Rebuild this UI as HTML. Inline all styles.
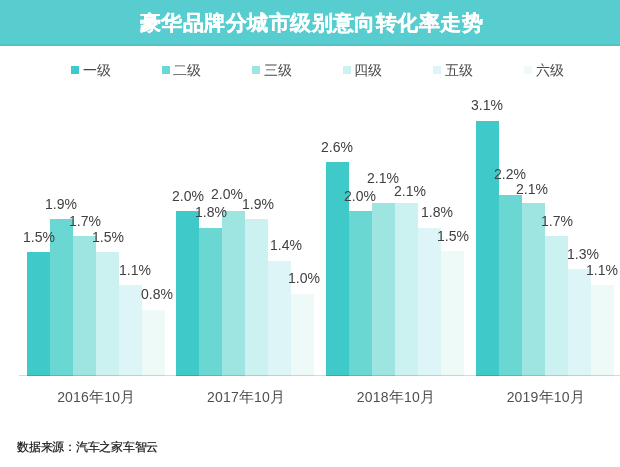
<!DOCTYPE html>
<html><head><meta charset="utf-8"><style>
html,body{margin:0;padding:0;}
body{width:620px;height:467px;position:relative;overflow:hidden;background:#fff;font-family:"Liberation Sans",sans-serif;-webkit-font-smoothing:antialiased;}
.tbar{position:absolute;left:0;top:0;width:620px;height:46px;background:#57CDCF;box-shadow:inset 0 -2px 0 rgba(0,0,0,0.05);}
.title{position:absolute;left:140px;top:0;height:46px;color:#fff;font-size:21px;font-weight:bold;line-height:46px;letter-spacing:0.45px;white-space:nowrap;-webkit-text-stroke:0.3px #fff;}
.bar{position:absolute;}
.wrap{position:absolute;left:0;top:0;width:620px;height:467px;will-change:transform;}
.axis{position:absolute;left:19px;top:375px;width:601px;height:1px;background:rgba(0,0,0,0.15);}
.lbl{position:absolute;font-size:14px;color:#404040;line-height:16px;white-space:nowrap;}
.cat{position:absolute;top:389px;width:100px;text-align:center;font-size:14px;color:#505050;line-height:16px;letter-spacing:0.2px;}
.cj{font-size:15px;}
.lsq{position:absolute;top:66px;width:8px;height:8px;}
.ltx{position:absolute;top:62px;font-size:14px;color:#4A4A4A;line-height:16px;}
.src{position:absolute;left:17px;top:439px;font-size:12px;color:#151515;line-height:16px;letter-spacing:-0.25px;white-space:nowrap;-webkit-text-stroke:0.2px #151515;}
</style></head><body><div class="wrap">
<div class="tbar"></div><div class="title">豪华品牌分城市级别意向转化率走势</div>
<div class="bar" style="left:26.50px;top:252.40px;width:23.00px;height:123.60px;background:#3FCAC9"></div><div class="bar" style="left:49.50px;top:219.44px;width:23.00px;height:156.56px;background:#6AD7D3"></div><div class="bar" style="left:72.50px;top:235.92px;width:23.00px;height:140.08px;background:#9EE5E1"></div><div class="bar" style="left:95.50px;top:252.40px;width:23.00px;height:123.60px;background:#CBF1F0"></div><div class="bar" style="left:118.50px;top:285.36px;width:23.00px;height:90.64px;background:#DDF5F7"></div><div class="bar" style="left:141.50px;top:310.08px;width:23.00px;height:65.92px;background:#EEFAF8"></div><div class="bar" style="left:176.33px;top:211.20px;width:23.00px;height:164.80px;background:#3FCAC9"></div><div class="bar" style="left:199.33px;top:227.68px;width:23.00px;height:148.32px;background:#6AD7D3"></div><div class="bar" style="left:222.33px;top:211.20px;width:23.00px;height:164.80px;background:#9EE5E1"></div><div class="bar" style="left:245.33px;top:219.44px;width:23.00px;height:156.56px;background:#CBF1F0"></div><div class="bar" style="left:268.33px;top:260.64px;width:23.00px;height:115.36px;background:#DDF5F7"></div><div class="bar" style="left:291.33px;top:293.60px;width:23.00px;height:82.40px;background:#EEFAF8"></div><div class="bar" style="left:326.17px;top:161.76px;width:23.00px;height:214.24px;background:#3FCAC9"></div><div class="bar" style="left:349.17px;top:211.20px;width:23.00px;height:164.80px;background:#6AD7D3"></div><div class="bar" style="left:372.17px;top:202.96px;width:23.00px;height:173.04px;background:#9EE5E1"></div><div class="bar" style="left:395.17px;top:202.96px;width:23.00px;height:173.04px;background:#CBF1F0"></div><div class="bar" style="left:418.17px;top:227.68px;width:23.00px;height:148.32px;background:#DDF5F7"></div><div class="bar" style="left:441.17px;top:250.75px;width:23.00px;height:125.25px;background:#EEFAF8"></div><div class="bar" style="left:476.00px;top:120.56px;width:23.00px;height:255.44px;background:#3FCAC9"></div><div class="bar" style="left:499.00px;top:194.72px;width:23.00px;height:181.28px;background:#6AD7D3"></div><div class="bar" style="left:522.00px;top:202.96px;width:23.00px;height:173.04px;background:#9EE5E1"></div><div class="bar" style="left:545.00px;top:235.92px;width:23.00px;height:140.08px;background:#CBF1F0"></div><div class="bar" style="left:568.00px;top:268.88px;width:23.00px;height:107.12px;background:#DDF5F7"></div><div class="bar" style="left:591.00px;top:285.36px;width:23.00px;height:90.64px;background:#EEFAF8"></div><div class="lbl" style="left:23px;top:229px">1.5%</div><div class="lbl" style="left:45px;top:196px">1.9%</div><div class="lbl" style="left:69px;top:213px">1.7%</div><div class="lbl" style="left:92px;top:229px">1.5%</div><div class="lbl" style="left:119px;top:262px">1.1%</div><div class="lbl" style="left:141px;top:286px">0.8%</div><div class="lbl" style="left:172px;top:188px">2.0%</div><div class="lbl" style="left:195px;top:204px">1.8%</div><div class="lbl" style="left:211px;top:186px">2.0%</div><div class="lbl" style="left:242px;top:196px">1.9%</div><div class="lbl" style="left:270px;top:237px">1.4%</div><div class="lbl" style="left:288px;top:270px">1.0%</div><div class="lbl" style="left:321px;top:139px">2.6%</div><div class="lbl" style="left:344px;top:188px">2.0%</div><div class="lbl" style="left:367px;top:170px">2.1%</div><div class="lbl" style="left:394px;top:183px">2.1%</div><div class="lbl" style="left:421px;top:204px">1.8%</div><div class="lbl" style="left:437px;top:228px">1.5%</div><div class="lbl" style="left:471px;top:97px">3.1%</div><div class="lbl" style="left:494px;top:166px">2.2%</div><div class="lbl" style="left:516px;top:181px">2.1%</div><div class="lbl" style="left:541px;top:213px">1.7%</div><div class="lbl" style="left:567px;top:246px">1.3%</div><div class="lbl" style="left:586px;top:262px">1.1%</div><div class="cat" style="left:46.30px">2016<span class="cj">年</span>10<span class="cj">月</span></div><div class="cat" style="left:196.13px">2017<span class="cj">年</span>10<span class="cj">月</span></div><div class="cat" style="left:345.97px">2018<span class="cj">年</span>10<span class="cj">月</span></div><div class="cat" style="left:495.80px">2019<span class="cj">年</span>10<span class="cj">月</span></div><div class="lsq" style="left:71.00px;background:#3FCAC9"></div><div class="ltx" style="left:82.50px">一级</div><div class="lsq" style="left:161.60px;background:#6AD7D3"></div><div class="ltx" style="left:173.10px">二级</div><div class="lsq" style="left:252.20px;background:#9EE5E1"></div><div class="ltx" style="left:263.70px">三级</div><div class="lsq" style="left:342.80px;background:#CBF1F0"></div><div class="ltx" style="left:354.30px">四级</div><div class="lsq" style="left:433.40px;background:#DDF5F7"></div><div class="ltx" style="left:444.90px">五级</div><div class="lsq" style="left:524.00px;background:#EEFAF8"></div><div class="ltx" style="left:535.50px">六级</div>
<div class="axis"></div>
<div class="src">数据来源：汽车之家车智云</div>
</div></body></html>
